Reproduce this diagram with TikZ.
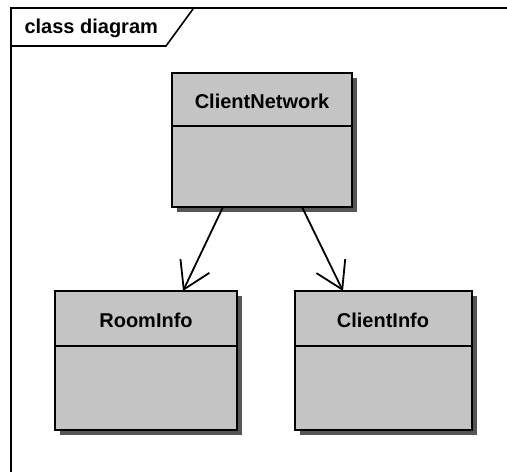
\documentclass[tikz,border=0pt]{standalone}
\usepackage{fontspec}
\setmainfont{Liberation Sans}
\usetikzlibrary{arrows.meta}
\definecolor{boxfill}{HTML}{C4C4C4}
\definecolor{shade}{HTML}{555555}
\tikzset{
  classbox/.style={draw=black, line width=1.8pt, fill=boxfill},
  classshadow/.style={fill=shade},
  classname/.style={font=\fontsize{20}{22}\selectfont\bfseries, text=black},
  assoc/.style={draw=black, line width=1.8pt, -{Straight Barb[length=26pt,width=32pt,line width=1.8pt]}},
  frameline/.style={draw=black, line width=1.6pt}
}
\begin{document}
\begin{tikzpicture}[x=1pt,y=-1pt]
\useasboundingbox (0,0) rectangle (507,472);
\fill[white] (0,0) rectangle (507,472);
% frame
\draw[frameline] (11,472) -- (11,8) -- (507,8);
\draw[frameline] (11,46) -- (166,46) -- (193,9);
\node[font=\fontsize{20}{22}\selectfont\bfseries, anchor=base west] (title) at (21,33) {class diagram};
% ClientNetwork
\fill[classshadow] (177,78) rectangle (357,212);
\draw[classbox] (172,73) rectangle (352,207);
\draw[black, line width=1.8pt] (172,126) -- (352,126);
\node[classname] (cn) at (262,101) {ClientNetwork};
\coordinate (cnl) at (223,207);
\coordinate (cnr) at (302,207);
% RoomInfo
\fill[classshadow] (60,296) rectangle (242,435);
\draw[classbox] (55,291) rectangle (237,430);
\draw[black, line width=1.8pt] (55,346) -- (237,346);
\node[classname] (ri) at (146,320) {RoomInfo};
\coordinate (rit) at (183,291);
% ClientInfo
\fill[classshadow] (300,296) rectangle (477,435);
\draw[classbox] (295,291) rectangle (472,430);
\draw[black, line width=1.8pt] (295,346) -- (472,346);
\node[classname] (ci) at (383,320) {ClientInfo};
\coordinate (cit) at (343,291);
% associations
\draw[assoc] (cnl) -- (rit);
\draw[assoc] (cnr) -- (cit);
\end{tikzpicture}
\end{document}
